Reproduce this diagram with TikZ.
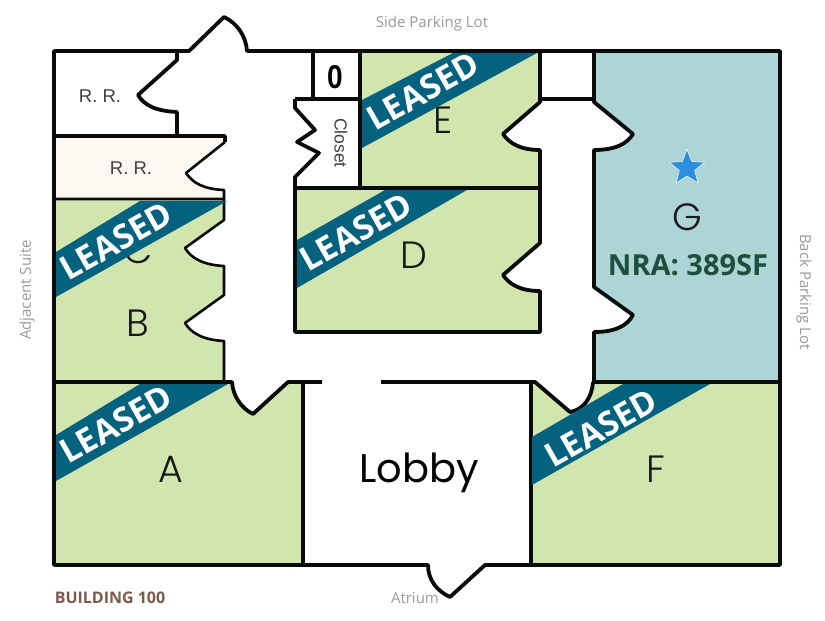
\documentclass[tikz,border=0pt]{standalone}
\usepackage{fontspec}
\setmainfont{Poppins}
\newfontfamily\letterfont{Poppins Light}
\newfontfamily\bannerfont{Open Sans}
\newfontfamily\captionfont{Open Sans}
\newfontfamily\smallfont{Liberation Sans}
\definecolor{leasegreen}{HTML}{D1E6AE}
\definecolor{gblue}{HTML}{AED5D6}
\definecolor{rrcream}{HTML}{FBF8F2}
\definecolor{bannerblue}{HTML}{04627F}
\definecolor{wallblack}{HTML}{0A0A0A}
\definecolor{sidegray}{HTML}{9A9A9A}
\definecolor{nragreen}{HTML}{1D4F3D}
\definecolor{bldbrown}{HTML}{7D5B4C}
\definecolor{starblue}{HTML}{2A8FDC}
\usetikzlibrary{shapes.geometric}
\tikzset{
  wall/.style={draw=wallblack,line width=3.8pt,line join=round},
  thinwall/.style={draw=wallblack,line width=2.6pt,line join=round},
  leasedroom/.style={fill=leasegreen},
  banner/.style={fill=bannerblue},
  bannertext/.style={text=white,font=\bannerfont\bfseries\fontsize{33.5}{35}\selectfont,rotate=29.5,inner sep=0pt},
  roomletter/.style={text=black!90,font=\letterfont\fontsize{38}{40}\selectfont,inner sep=0pt},
  rrlabel/.style={text=black!75,font=\smallfont\fontsize{18.5}{20}\selectfont,inner sep=0pt},
  sitelabel/.style={text=sidegray,font=\captionfont\fontsize{15}{17}\selectfont,inner sep=0pt},
}
\begin{document}
\begin{tikzpicture}[x=1pt,y=-1pt]
\useasboundingbox (0,0) rectangle (825,621);
\fill[white] (0,0) rectangle (825,621);
% room fills
\fill[rrcream] (54,136) -- (225,136) -- (225,142) -- (186,173) .. controls (193,183) and (203,189) .. (224,190) -- (224,199) -- (54,199) -- cycle;
\path[leasedroom] (54,199) -- (224,199) -- (224,220) -- (185,248) .. controls (191,258) and (203,265) .. (224,266) -- (224,295) -- (185,323) .. controls (191,333) and (203,340) .. (224,341) -- (224,382) -- (54,382) -- cycle;
\path[leasedroom] (54,382) -- (232,382) .. controls (233,396) and (241,408) .. (253,414) -- (288,382) -- (303,382) -- (303,565) -- (54,565) -- cycle;
\path[leasedroom] (360,51) -- (540,51) -- (540,102) -- (503,134) .. controls (509,143) and (520,150) .. (540,150) -- (540,188) -- (360,188) -- cycle;
\path[leasedroom] (295,188) -- (540,188) -- (540,243) -- (503,275) .. controls (509,284) and (520,291) .. (540,291) -- (540,332) -- (295,332) -- cycle;
\path[leasedroom] (531,382) -- (535,382) -- (570,412) .. controls (583,410) and (592,398) .. (593,382) -- (780,382) -- (780,565) -- (531,565) -- cycle;
\fill[gblue] (595,51) -- (780,51) -- (780,382) -- (595,382) -- (595,332) .. controls (615,332) and (627,326) .. (633,315) -- (595,287) -- (595,150) .. controls (615,150) and (627,144) .. (633,134) -- (595,102) -- cycle;
% walls
\draw[wall] (189,51) -- (54,51) -- (54,565) -- (428,565) .. controls (428,580) and (437,591) .. (450,597) -- (485,565) -- (780,565) -- (780,51) -- (247,51) .. controls (246,36) and (237,23) .. (224,17) -- cycle;
\fill[white] (191,53.5) -- (224,20) -- (244,53.5) -- cycle;
\draw[wall] (177,51) -- (177,60) -- (138,95) .. controls (144,105) and (155,111) .. (177,112) -- (177,136);
\draw[wall] (54,136) -- (225,136) -- (225,142);
\draw[thinwall] (225,142) -- (186,173) .. controls (193,183) and (203,189) .. (224,190) -- (224,199);
\draw[thinwall] (54,199) -- (224,199) -- (224,220) -- (185,248) .. controls (191,258) and (203,265) .. (224,266) -- (224,295) -- (185,323) .. controls (191,333) and (203,340) .. (224,341) -- (224,382);
\draw[wall] (54,382) -- (232,382) .. controls (233,396) and (241,408) .. (253,414) -- (288,382) -- (322,382);
\draw[wall] (303,382) -- (303,565);
\draw[wall] (381,382) -- (535,382) -- (570,412) .. controls (583,410) and (592,398) .. (593,382);
\draw[wall] (531,382) -- (531,565);
\draw[wall] (593,382) -- (780,382);
\draw[wall] (313,51) -- (313,99);
\draw[wall] (295,99) -- (360,99);
\draw[wall] (360,51) -- (360,188);
\draw[wall] (295,99) -- (295,108) -- (315,130) -- (297,142) -- (319,153) -- (295,177) -- (295,332) -- (540,332) -- (540,291) .. controls (520,291) and (509,284) .. (503,275) -- (540,243) -- (540,188) -- (295,188);
\draw[wall] (540,188) -- (540,150) .. controls (520,150) and (509,143) .. (503,134) -- (540,102) -- (540,51);
\draw[wall] (540,99) -- (594,99);
\draw[wall] (594,51) -- (594,102) -- (633,134) .. controls (627,144) and (615,150) .. (594,150) -- (594,287) -- (633,315) .. controls (627,326) and (615,332) .. (594,332) -- (594,382);
% room letters
\node[roomletter] (letterE) at (443,120) {E};
\node[roomletter] (letterD) at (414,255) {D};
\node[roomletter] (letterC) at (138,250) {C};
\node[roomletter] (letterB) at (138,323) {B};
\node[roomletter] (letterA) at (171,469) {A};
\node[roomletter] (letterF) at (656,469) {F};
\node[roomletter] (letterG) at (687,217) {G};
\node[roomletter,text=black,font=\fontsize{40}{42}\selectfont] (lobby) at (419,473) {Lobby};
% banners
\path[banner] (362,100) -- (453,53) -- (537,53) -- (362,148) -- cycle;
\path[banner] (297,240) -- (385,190) -- (467,190) -- (297,288) -- cycle;
\path[banner] (56,252) -- (140,201) -- (227,201) -- (56,297) -- cycle;
\path[banner] (56,435) -- (140,384) -- (228,384) -- (56,481) -- cycle;
\path[banner] (532,437) -- (623,384) -- (710,384) -- (532,485) -- cycle;
\node[bannertext] (leaseE) at (423,91) {LEASED};
\node[bannertext] (leaseD) at (356,232) {LEASED};
\node[bannertext] (leaseC) at (116,241) {LEASED};
\node[bannertext] (leaseA) at (116,424) {LEASED};
\node[bannertext] (leaseF) at (601,428) {LEASED};
% small labels
\node[rrlabel] (rr1) at (100,96) {R. R.};
\node[rrlabel] (rr2) at (131,168) {R. R.};
\node[rrlabel,rotate=-90,font=\smallfont\fontsize{17.5}{19}\selectfont] (closet) at (341,143) {Closet};
\node[inner sep=0pt,text=black,font=\smallfont\bfseries\fontsize{33}{35}\selectfont,xscale=0.85] (zero) at (335,77) {0};
\node[star,star points=5,star point ratio=2.3,fill=starblue,draw=white,line width=0.5pt,minimum size=37pt,inner sep=0pt] (star) at (687,168) {};
\node[inner sep=0pt,text=nragreen,font=\captionfont\bfseries\fontsize{29}{31}\selectfont] (nra) at (688,265) {NRA: 389SF};
\node[sitelabel] (side) at (432,24) {Side Parking Lot};
\node[sitelabel,rotate=90] (adjacent) at (27,290) {Adjacent Suite};
\node[sitelabel,rotate=-90] (back) at (804,292) {Back Parking Lot};
\node[sitelabel] (atrium) at (415,598) {Atrium};
\node[inner sep=0pt,text=bldbrown,font=\captionfont\bfseries\fontsize{16}{18}\selectfont] (building) at (110,598) {BUILDING 100};
\end{tikzpicture}
\end{document}
